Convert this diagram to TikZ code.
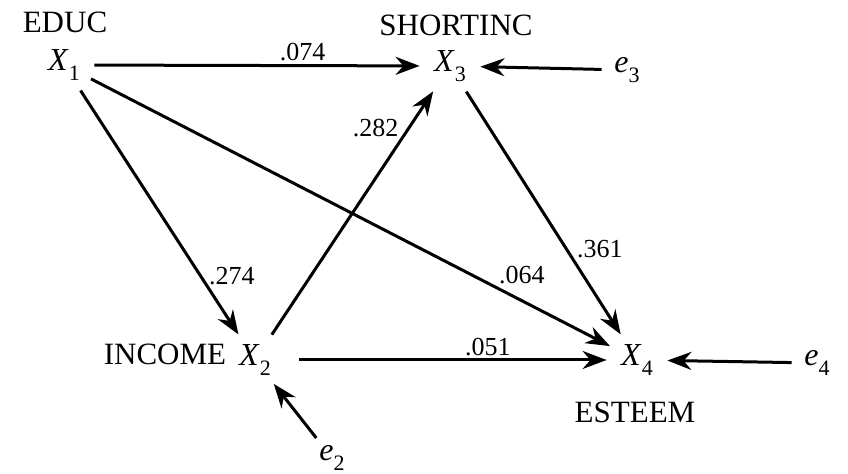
\documentclass[tikz,border=0pt]{standalone}
\usepackage{fontspec}
\setmainfont{Liberation Serif}
\usetikzlibrary{arrows.meta,positioning}
\newcommand{\pathvar}[2]{\textit{#1}\raisebox{-.3em}{\fontsize{11}{11}\selectfont #2}}

\begin{document}
\begin{tikzpicture}[x=0.5pt, y=-0.5pt]
    \tikzstyle{varnode} = [circle, inner sep=0pt, minimum size=30pt, font=\fontsize{16}{16}\selectfont]
    \tikzstyle{errnode} = [circle, inner sep=0pt, minimum size=25pt, font=\fontsize{16}{16}\selectfont]
    \tikzstyle{vartitle} = [inner sep=0pt, font=\fontsize{15.5}{16}\selectfont]
    \tikzstyle{coef} = [inner sep=1.5pt, font=\fontsize{13}{13}\selectfont]
    \tikzstyle{line} = [draw, line width=1.5pt, -{Stealth[length=12pt, width=9pt]}]

    \useasboundingbox (0,0) rectangle (848,474);

    % variables
    \node [varnode] (x1) at (64,65) {\pathvar{X}{1}};
    \node [varnode] (x2) at (255,360) {\pathvar{X}{2}};
    \node [varnode] (x3) at (450,66) {\pathvar{X}{3}};
    \node [varnode] (x4) at (637,360) {\pathvar{X}{4}};

    % residuals
    \node [errnode] (e2) at (332,458) {\pathvar{e}{2}};
    \node [errnode] (e3) at (627,70) {\pathvar{e}{3}};
    \node [errnode] (e4) at (817,363) {\pathvar{e}{4}};

    % names
    \node [vartitle] (educ) at (65,22) {EDUC};
    \node [vartitle] (shortinc) at (456,25) {SHORTINC};
    \node [vartitle] (income) at (165,354) {INCOME};
    \node [vartitle] (esteem) at (635,412) {ESTEEM};

    % paths
    \draw [line] (x1) -- node [coef, pos=.64, above] {.074} (x3);
    \draw [line] (x1) -- node [coef, pos=.76, right=2pt] {.274} (x2);
    \draw [line] (x1) -- node [coef, pos=.83, above=6pt] {.064} (x4);
    \draw [line] (x2) -- node [coef, pos=.85, left=3pt] {.282} (x3);
    \draw [line, shorten <=7pt] (x2) -- node [coef, pos=.63, above] {.051} (x4);
    \draw [line] (x3) -- node [coef, pos=.65, right=3pt] {.361} (x4);
    \draw [line] (e2) -- (x2);
    \draw [line] (e3) -- (x3);
    \draw [line] (e4) -- (x4);
\end{tikzpicture}
\end{document}
